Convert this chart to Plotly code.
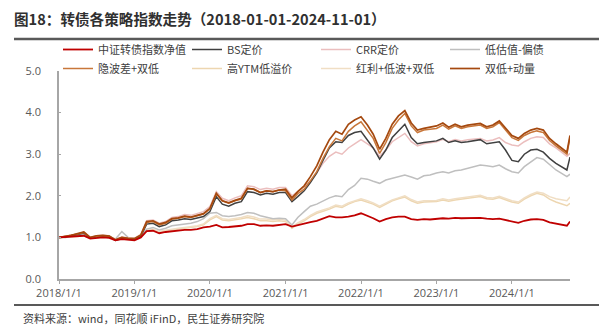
import plotly.graph_objects as go

# Month-start sampling dates (last two: Sep-2024 low and final close)
dates = [f"{y}-{m:02d}-01" for y in range(2018, 2025) for m in range(1, 13)]
dates = dates[:dates.index("2024-09-01")] + ["2024-09-23", "2024-10-08"]
dates[0] = "2018-01-02"

csi_cb = [1.00, 1.01, 1.02, 1.03, 1.04, 0.97, 0.99, 1.00, 0.99, 0.93, 0.96, 0.95,
          0.93, 1.00, 1.15, 1.16, 1.10, 1.13, 1.15, 1.17, 1.18, 1.18, 1.20, 1.24,
          1.26, 1.30, 1.24, 1.25, 1.26, 1.28, 1.32, 1.32, 1.28, 1.29, 1.28, 1.30,
          1.32, 1.26, 1.30, 1.33, 1.37, 1.40, 1.46, 1.51, 1.48, 1.48, 1.50, 1.53,
          1.58, 1.52, 1.46, 1.38, 1.44, 1.48, 1.50, 1.50, 1.44, 1.42, 1.44, 1.43,
          1.44, 1.46, 1.45, 1.47, 1.46, 1.46, 1.47, 1.47, 1.45, 1.44, 1.45, 1.42,
          1.38, 1.35, 1.40, 1.43, 1.44, 1.42, 1.36, 1.33, 1.28, 1.38]

bs_price = [1.00, 1.01, 1.04, 1.07, 1.10, 0.98, 1.02, 1.03, 1.02, 0.93, 0.98, 0.96,
            0.95, 1.03, 1.32, 1.34, 1.26, 1.30, 1.40, 1.42, 1.45, 1.43, 1.47, 1.50,
            1.62, 1.98, 1.80, 1.75, 1.82, 1.86, 2.10, 2.08, 2.02, 2.06, 2.04, 2.08,
            2.08, 1.86, 1.98, 2.12, 2.32, 2.55, 2.85, 3.15, 3.30, 3.28, 3.45, 3.52,
            3.55, 3.35, 3.15, 2.88, 3.10, 3.40, 3.55, 3.72, 3.40, 3.25, 3.28, 3.30,
            3.32, 3.38, 3.28, 3.32, 3.28, 3.30, 3.32, 3.35, 3.25, 3.28, 3.30, 3.10,
            2.85, 2.82, 3.00, 3.10, 3.12, 3.05, 2.90, 2.78, 2.62, 2.93]

crr_price = [1.00, 1.02, 1.05, 1.08, 1.12, 1.00, 1.04, 1.05, 1.04, 0.95, 1.01, 0.99,
             0.98, 1.07, 1.40, 1.42, 1.34, 1.38, 1.48, 1.50, 1.55, 1.53, 1.57, 1.62,
             1.74, 2.10, 1.94, 1.88, 1.95, 2.00, 2.24, 2.22, 2.15, 2.18, 2.16, 2.20,
             2.20, 2.00, 2.10, 2.22, 2.35, 2.55, 2.78, 2.95, 3.05, 3.00, 3.15, 3.25,
             3.35, 3.25, 3.15, 2.95, 3.10, 3.30, 3.40, 3.50, 3.30, 3.20, 3.25, 3.28,
             3.30, 3.36, 3.30, 3.35, 3.32, 3.35, 3.36, 3.38, 3.32, 3.34, 3.40, 3.28,
             3.22, 3.20, 3.30, 3.38, 3.42, 3.40, 3.25, 3.15, 2.95, 3.02]

low_val_bond = [1.00, 1.00, 1.02, 1.03, 1.05, 0.99, 1.01, 1.02, 1.01, 0.96, 1.14, 1.00,
                0.98, 1.03, 1.20, 1.24, 1.18, 1.22, 1.28, 1.30, 1.33, 1.34, 1.38, 1.45,
                1.58, 1.60, 1.52, 1.50, 1.52, 1.55, 1.60, 1.58, 1.52, 1.48, 1.45, 1.46,
                1.45, 1.30, 1.48, 1.62, 1.75, 1.80, 1.88, 1.95, 2.00, 1.98, 2.15, 2.25,
                2.42, 2.40, 2.35, 2.30, 2.38, 2.42, 2.45, 2.50, 2.45, 2.40, 2.48, 2.50,
                2.55, 2.58, 2.55, 2.60, 2.62, 2.66, 2.70, 2.74, 2.72, 2.70, 2.74, 2.65,
                2.58, 2.55, 2.70, 2.82, 2.92, 2.88, 2.75, 2.62, 2.46, 2.52]

ivol_dbl_low = [1.00, 1.02, 1.05, 1.08, 1.12, 0.99, 1.03, 1.04, 1.03, 0.94, 1.00, 0.98,
                0.97, 1.05, 1.36, 1.38, 1.30, 1.34, 1.44, 1.46, 1.50, 1.48, 1.52, 1.56,
                1.68, 2.05, 1.88, 1.82, 1.88, 1.92, 2.18, 2.15, 2.08, 2.12, 2.10, 2.14,
                2.12, 1.90, 2.05, 2.16, 2.36, 2.58, 2.90, 3.18, 3.38, 3.32, 3.55, 3.68,
                3.78, 3.58, 3.38, 3.02, 3.28, 3.62, 3.82, 3.98, 3.68, 3.52, 3.58, 3.60,
                3.62, 3.70, 3.60, 3.68, 3.62, 3.66, 3.68, 3.70, 3.62, 3.66, 3.76, 3.58,
                3.40, 3.33, 3.45, 3.52, 3.56, 3.52, 3.33, 3.20, 3.00, 3.40]

high_ytm = [1.00, 1.00, 1.01, 1.02, 1.04, 0.98, 1.00, 1.01, 1.00, 0.95, 0.98, 0.96,
            0.95, 1.02, 1.15, 1.18, 1.12, 1.15, 1.18, 1.20, 1.22, 1.24, 1.26, 1.30,
            1.42, 1.50, 1.42, 1.40, 1.42, 1.45, 1.48, 1.45, 1.40, 1.40, 1.38, 1.40,
            1.38, 1.22, 1.32, 1.40, 1.50, 1.58, 1.63, 1.68, 1.75, 1.72, 1.80, 1.86,
            1.90, 1.85, 1.80, 1.72, 1.80, 1.88, 1.93, 1.97, 1.88, 1.82, 1.85, 1.85,
            1.86, 1.90, 1.87, 1.90, 1.92, 1.95, 1.97, 1.98, 1.93, 1.92, 1.96, 1.90,
            1.85, 1.82, 1.92, 2.00, 2.06, 2.02, 1.92, 1.85, 1.76, 1.82]

div_lowvol = [1.00, 1.00, 1.02, 1.03, 1.05, 0.99, 1.01, 1.02, 1.01, 0.96, 0.99, 0.97,
              0.96, 1.03, 1.17, 1.20, 1.14, 1.17, 1.20, 1.22, 1.24, 1.26, 1.28, 1.32,
              1.45, 1.53, 1.45, 1.43, 1.45, 1.48, 1.52, 1.49, 1.44, 1.44, 1.42, 1.44,
              1.41, 1.25, 1.35, 1.43, 1.53, 1.61, 1.66, 1.71, 1.78, 1.75, 1.83, 1.88,
              1.93, 1.88, 1.83, 1.75, 1.83, 1.90, 1.95, 2.00, 1.91, 1.85, 1.88, 1.88,
              1.89, 1.93, 1.90, 1.93, 1.95, 1.98, 2.00, 2.01, 1.96, 1.95, 1.99, 1.93,
              1.88, 1.85, 1.95, 2.03, 2.09, 2.06, 1.98, 1.93, 1.88, 1.97]

dbl_low_mom = [1.00, 1.02, 1.05, 1.09, 1.13, 1.00, 1.04, 1.05, 1.03, 0.94, 1.00, 0.98,
               0.97, 1.06, 1.38, 1.40, 1.32, 1.36, 1.45, 1.47, 1.51, 1.49, 1.53, 1.57,
               1.70, 2.06, 1.88, 1.83, 1.89, 1.94, 2.18, 2.16, 2.08, 2.12, 2.10, 2.14,
               2.16, 1.95, 2.10, 2.24, 2.46, 2.72, 3.05, 3.35, 3.55, 3.48, 3.72, 3.82,
               3.90, 3.70, 3.48, 3.12, 3.38, 3.72, 3.92, 4.05, 3.75, 3.58, 3.62, 3.65,
               3.68, 3.75, 3.65, 3.72, 3.66, 3.70, 3.72, 3.74, 3.66, 3.70, 3.80, 3.62,
               3.45, 3.38, 3.50, 3.58, 3.62, 3.58, 3.38, 3.25, 3.05, 3.45]

series = [
    ("中证转债指数净值", csi_cb, "#C00000", 1.8),
    ("BS定价", bs_price, "#404040", 1.5),
    ("CRR定价", crr_price, "#EBBEBE", 1.5),
    ("低估值-偏债", low_val_bond, "#BFBFBF", 1.5),
    ("隐波差+双低", ivol_dbl_low, "#C8773A", 1.5),
    ("高YTM低溢价", high_ytm, "#EDD6B0", 1.5),
    ("红利+低波+双低", div_lowvol, "#F0DEC4", 1.5),
    ("双低+动量", dbl_low_mom, "#A5490F", 1.7),
]

tick_dates = [f"{y}-01-01" for y in range(2018, 2025)]
tick_text = [f"{y}/1/1" for y in range(2018, 2025)]

# Draw order: light lines first so the darker ones sit on top
draw_order = [5, 6, 3, 2, 1, 4, 7, 0]
fig = go.Figure()
for i in range(len(series)):
    name, vals, color, w = series[i]
    fig.add_trace(go.Scatter(x=dates, y=vals, name=name, mode="lines",
                             line=dict(color=color, width=w),
                             legendrank=i + 1))
fig.data = tuple(fig.data[i] for i in draw_order)

L, R, T, B = 59, 570, 71, 279
W, H = 603, 334
pw, ph = R - L, B - T


def px(x):
    return (x - L) / pw


def py(y):
    return (B - y) / ph


tick_font = dict(family="Open Sans, Noto Sans CJK SC", size=11, color="#595959")
fig.update_layout(
    width=W, height=H,
    margin=dict(l=L, r=W - R, t=T, b=H - B),
    paper_bgcolor="white", plot_bgcolor="white",
    font=dict(family="Noto Sans CJK SC", size=11, color="#404040"),
    showlegend=True,
    legend=dict(orientation="h", x=px(58), y=py(35), xanchor="left", yanchor="top",
                entrywidth=84, entrywidthmode="pixels", itemwidth=30,
                font=dict(family="Noto Sans CJK SC", size=11, color="#404040"),
                traceorder="normal", bgcolor="rgba(0,0,0,0)", tracegroupgap=0),
    xaxis=dict(type="date", range=["2018-01-01", "2024-10-08"],
               tickvals=tick_dates, ticktext=tick_text, tickfont=tick_font,
               showgrid=False, zeroline=False, showline=True, linecolor="#A6A6A6",
               linewidth=1.5, ticks="outside", ticklen=3, tickcolor="#A6A6A6"),
    yaxis=dict(range=[0, 5], tickvals=[0, 1, 2, 3, 4, 5], tickformat=".1f",
               tickfont=tick_font, showgrid=False, zeroline=False, showline=True,
               linecolor="#A6A6A6", linewidth=1.5, ticks="inside", ticklen=2,
               tickcolor="#A6A6A6", ticklabelstandoff=14),
    annotations=[
        dict(text="<b>图18：转债各策略指数走势（2018-01-01-2024-11-01）</b>",
             xref="paper", yref="paper", x=px(12), y=py(18), xanchor="left",
             yanchor="middle", showarrow=False,
             font=dict(family="Noto Sans CJK SC", size=14.6, color="#303030")),
        dict(text="资料来源：wind，同花顺 iFinD，民生证券研究院",
             xref="paper", yref="paper", x=px(21), y=py(318), xanchor="left",
             yanchor="middle", showarrow=False,
             font=dict(family="Noto Sans CJK SC", size=11, color="#404040")),
    ],
    shapes=[
        dict(type="line", xref="paper", yref="paper", x0=px(14), x1=px(599),
             y0=py(39), y1=py(39), line=dict(color="#595959", width=2.5)),
        dict(type="line", xref="paper", yref="paper", x0=px(14), x1=px(599),
             y0=py(305), y1=py(305), line=dict(color="#595959", width=2)),
    ],
)

fig.write_html("out.html")
